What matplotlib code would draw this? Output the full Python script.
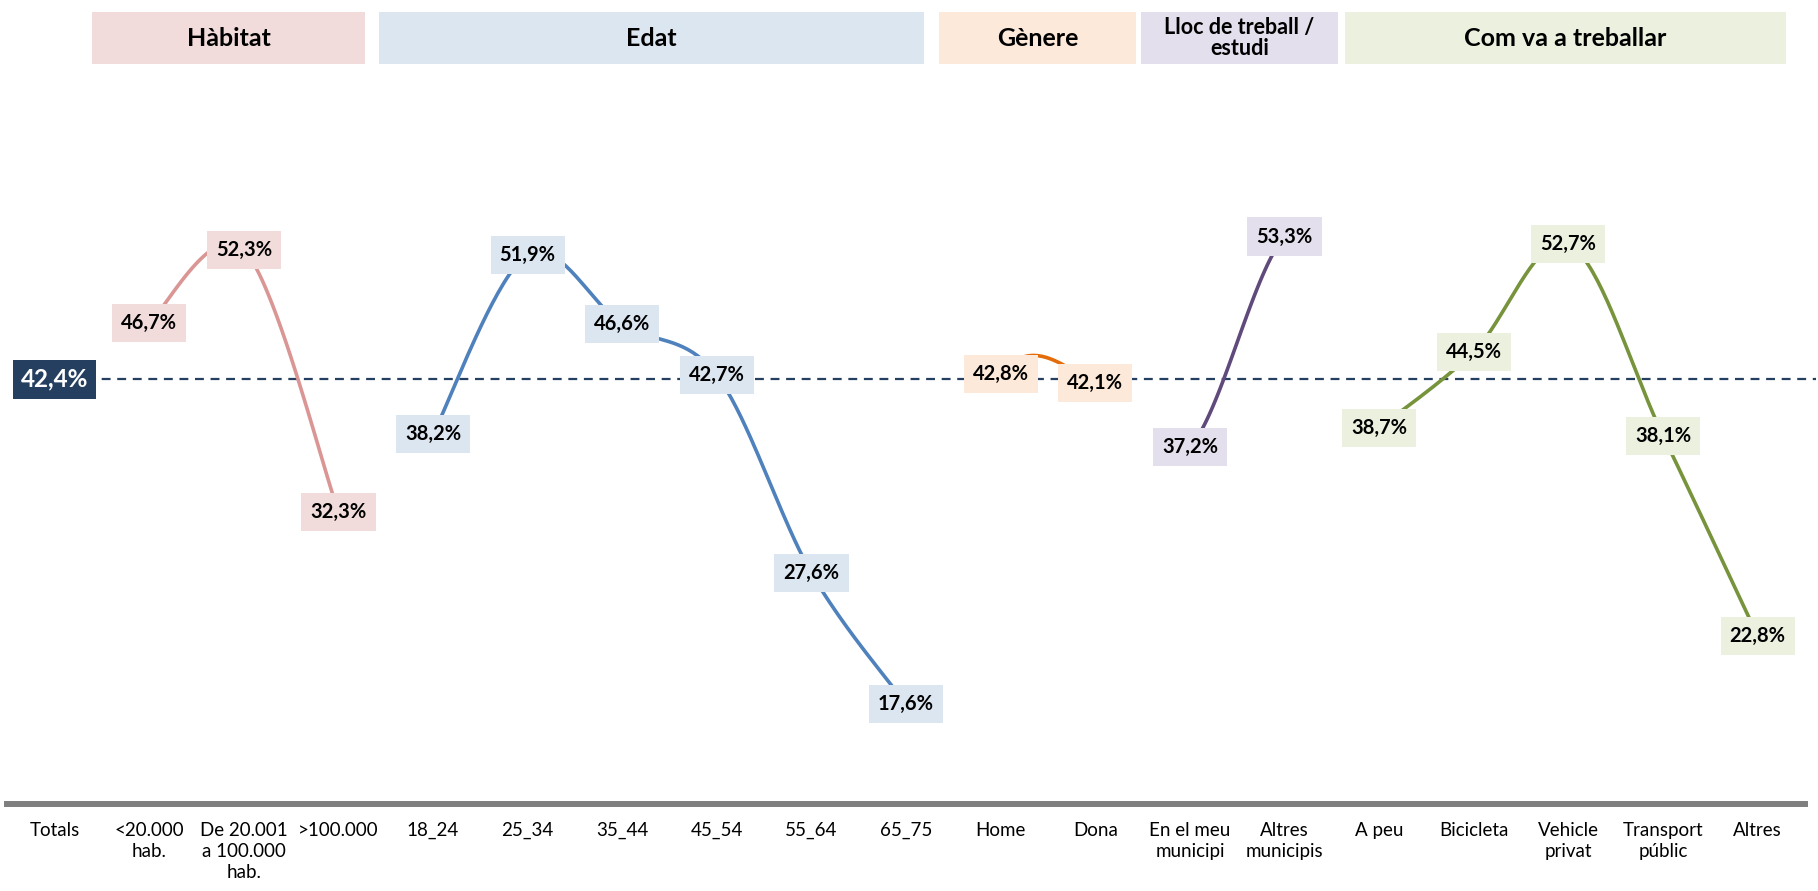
import matplotlib

matplotlib.use("Agg")
import matplotlib.pyplot as plt
import numpy as np
from matplotlib.patches import Rectangle

plt.rcParams["font.family"] = ["Lato", "DejaVu Sans"]

# --- dades ---
categories = [
    "Totals", "<20.000\nhab.", "De 20.001\na 100.000\nhab.", ">100.000",
    "18_24", "25_34", "35_44", "45_54", "55_64", "65_75",
    "Home", "Dona", "En el meu\nmunicipi", "Altres\nmunicipis",
    "A peu", "Bicicleta", "Vehicle\nprivat", "Transport\npúblic", "Altres",
]
total_value = 42.4
habitat = [46.7, 52.3, 32.3]
edat = [38.2, 51.9, 46.6, 42.7, 27.6, 17.6]
genere = [42.8, 42.1]
lloc = [37.2, 53.3]
transport = [38.7, 44.5, 52.7, 38.1, 22.8]
group_titles = ["Hàbitat", "Edat", "Gènere", "Lloc de treball /\nestudi", "Com va a treballar"]

# --- estil ---
W, H = 1818, 891
groups = [
    (1, habitat, "#DA9694", "#F2DCDB"),
    (4, edat, "#4F81BD", "#DCE6F1"),
    (10, genere, "#E46C0A", "#FDE9D9"),
    (12, lloc, "#604A7B", "#E4DFEC"),
    (14, transport, "#77933C", "#EBF1DE"),
]
# caixes de capçalera en píxels (x0, x1)
header_px = [(92, 365), (379, 924), (939, 1136), (1141, 1338), (1345, 1786)]
header_y = (12, 64)


def smooth(xs, ys, n=40):
    """Corba suavitzada tipus Excel (Bezier amb tangents Catmull-Rom)."""
    P = np.column_stack([xs, ys]).astype(float)
    ext = np.vstack([P[0], P, P[-1]])
    out = []
    t = np.linspace(0, 1, n)[:, None]
    for i in range(len(P) - 1):
        p0, p1 = ext[i + 1], ext[i + 2]
        c1 = p0 + (ext[i + 2] - ext[i]) / 6
        c2 = p1 - (ext[i + 3] - ext[i + 1]) / 6
        seg = ((1 - t) ** 3) * p0 + 3 * ((1 - t) ** 2) * t * c1 + 3 * (1 - t) * t ** 2 * c2 + t ** 3 * p1
        out.append(seg if i == 0 else seg[1:])
    out = np.vstack(out)
    return out[:, 0], out[:, 1]


def two_point(xs, ys, k_start, k_end, n=60):
    """Dos punts: Bezier amb tangents d'extrem ajustades."""
    p0 = np.array([xs[0], ys[0]], float)
    p1 = np.array([xs[1], ys[1]], float)
    d = p1 - p0
    c1 = p0 + np.array([d[0] / 3, k_start])
    c2 = p1 - np.array([d[0] / 3, k_end])
    t = np.linspace(0, 1, n)[:, None]
    seg = ((1 - t) ** 3) * p0 + 3 * ((1 - t) ** 2) * t * c1 + 3 * (1 - t) * t ** 2 * c2 + t ** 3 * p1
    return seg[:, 0], seg[:, 1]


fig = plt.figure(figsize=(W / 100, H / 100), dpi=100)
ax = fig.add_axes([7.2 / W, (H - 803.7) / H, 1797.8 / W, (803.7 - 83.3) / H])
ax.set_xlim(-0.5, len(categories) - 0.5)
ax.set_ylim(10, 65)

# línia de referència (total)
ax.plot([0, 18.62], [total_value, total_value], ls=(0, (4, 3)), lw=1.6,
        color="#243F60", clip_on=False, zorder=1)
ax.text(0, total_value, f"{total_value:.1f}%".replace(".", ","), ha="center", va="center",
        fontsize=17.5, fontweight="bold", color="white", zorder=5,
        bbox=dict(boxstyle="square,pad=0.32", fc="#243F60", ec="none"))

for start, vals, lc, bc in groups:
    xs = np.arange(start, start + len(vals))
    if len(vals) == 2:
        dy = vals[1] - vals[0]
        if abs(dy) < 2:
            # gairebé pla: petit arc cap amunt
            sx, sy = two_point(xs, vals, 3.0, -1.2)
        else:
            sx, sy = two_point(xs, vals, dy / 6, dy / 6)
    else:
        sx, sy = smooth(xs, vals)
    ax.plot(sx, sy, color=lc, lw=2.6, solid_capstyle="round", zorder=2)
    for x, v in zip(xs, vals):
        ax.text(x, v, f"{v:.1f}%".replace(".", ","), ha="center", va="center",
                fontsize=14.5, fontweight="bold", color="black", zorder=4,
                bbox=dict(boxstyle="square,pad=0.45", fc=bc, ec="none"))

# capçaleres
for (x0, x1), title, (_, _, _, bc) in zip(header_px, group_titles, groups):
    fig.add_artist(Rectangle((x0 / W, 1 - header_y[1] / H), (x1 - x0) / W,
                             (header_y[1] - header_y[0]) / H,
                             transform=fig.transFigure, fc=bc, ec="none"))
    fs = 15.5 if "\n" in title else 18
    fig.text((x0 + x1) / 2 / W, 1 - (header_y[0] + header_y[1]) / 2 / H, title,
             ha="center", va="center", fontsize=fs, fontweight="bold",
             linespacing=1.05)

# eixos
for s in ["top", "right", "left"]:
    ax.spines[s].set_visible(False)
ax.spines["bottom"].set_color("#7F7F7F")
ax.spines["bottom"].set_linewidth(4.3)
ax.set_yticks([])
ax.set_xticks(range(len(categories)))
ax.set_xticklabels(categories, fontsize=13.5, linespacing=1.3, va="top")
ax.tick_params(axis="x", length=0, pad=13)

fig.savefig("out.png", dpi=100)
